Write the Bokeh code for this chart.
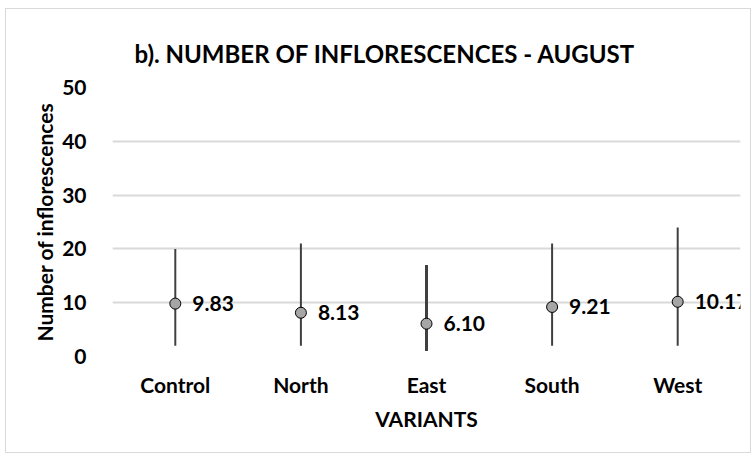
from bokeh.plotting import figure
from bokeh.models import ColumnDataSource, FactorRange, SingleIntervalTicker, LabelSet
from bokeh.core.properties import value
from bokeh.embed import file_html
from bokeh.resources import INLINE

variants = ["Control", "North", "East", "South", "West"]
means = [9.83, 8.13, 6.10, 9.21, 10.17]
lows = [2, 2, 1, 2, 2]
highs = [20, 21, 17, 21, 24]
widths = [2, 2, 3, 2, 2]
labels = ["%.2f" % m for m in means]

FONT = "Lato"

src = ColumnDataSource(dict(x=variants, m=means, lo=lows, hi=highs, w=widths, lab=labels))

p = figure(width=746, height=445, x_range=FactorRange(*variants), y_range=(0, 50),
           output_backend="svg", toolbar_location=None,
           min_border_left=106, min_border_right=12, min_border_top=78, min_border_bottom=98)
p.margin = (8, 0, 0, 5)
p.styles = {"border": "1px solid #d9d9d9"}
p.outline_line_color = None

p.title.text = "b). NUMBER OF INFLORESCENCES - AUGUST"
p.title.text_font = FONT
p.title.text_font_size = "24px"
p.title.text_font_style = "bold"
p.title.text_color = "#000000"
p.title.align = "left"
p.title.offset = 22
p.title.standoff = 40

p.segment(x0="x", y0="lo", x1="x", y1="hi", source=src, line_color="#404040", line_width="w")
p.scatter(x="x", y="m", source=src, size=11, fill_color="#a6a6a6", line_color="#000000", line_width=1)
lbl = LabelSet(x="x", y="m", text="lab", source=src, x_offset=17, text_baseline="middle",
               text_font=value(FONT), text_font_size=value("21px"), text_font_style=value("bold"),
               text_color=value("#000000"))
p.add_layout(lbl)

p.yaxis.ticker = SingleIntervalTicker(interval=10)
p.yaxis.axis_label = "Number of inflorescences"
p.xaxis.axis_label = "VARIANTS"
for ax in (p.xaxis, p.yaxis):
    ax.axis_line_color = None
    ax.major_tick_line_color = None
    ax.minor_tick_line_color = None
    ax.major_label_text_font = FONT
    ax.major_label_text_font_size = "21px"
    ax.major_label_text_font_style = "bold"
    ax.major_label_text_color = "#000000"
    ax.axis_label_text_font = FONT
    ax.axis_label_text_font_size = "21px"
    ax.axis_label_text_font_style = "bold"
    ax.axis_label_text_color = "#000000"
p.yaxis.major_label_standoff = 20
p.xaxis.major_label_standoff = 9
p.xaxis.axis_label_standoff = 6
p.yaxis.axis_label_standoff = 2

p.xgrid.grid_line_color = None
p.ygrid.grid_line_color = "#d9d9d9"
p.ygrid.grid_line_width = 2

open("out.html", "w").write(file_html(p, INLINE))
